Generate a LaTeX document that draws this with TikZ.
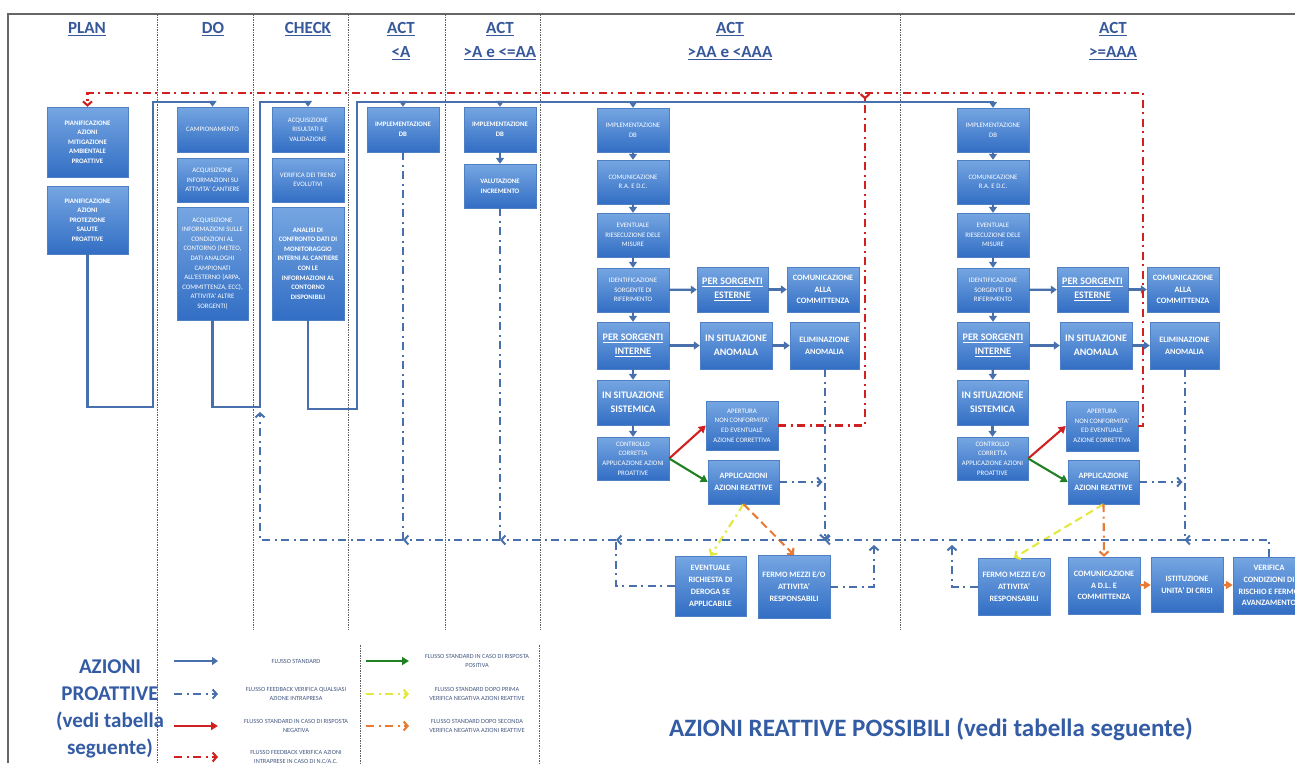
\documentclass[tikz,border=0pt]{standalone}
\usepackage{fontspec}
\setmainfont{Carlito}
\usetikzlibrary{arrows.meta,shadows}
\definecolor{hdr}{RGB}{55,88,155}
\definecolor{bigt}{RGB}{52,92,165}
\definecolor{boxtop}{RGB}{118,166,226}
\definecolor{boxbot}{RGB}{50,110,196}
\definecolor{boxedge}{RGB}{80,128,196}
\definecolor{flowblue}{RGB}{72,112,172}
\definecolor{fbred}{RGB}{208,32,32}
\definecolor{grn}{RGB}{32,128,36}
\definecolor{yel}{RGB}{226,232,64}
\definecolor{org}{RGB}{232,122,52}
\definecolor{sepc}{RGB}{95,95,95}
\definecolor{legt}{RGB}{68,88,130}
\newcommand{\bx}[7]{%
 \pgfmathsetmacro{\bxcx}{(#2+#4)/2}%
 \pgfmathsetmacro{\bxcy}{(#3+#5)/2}%
 \pgfmathsetmacro{\bxw}{#4-#2}%
 \pgfmathsetmacro{\bxh}{#5-#3}%
 \node[box,#6,minimum width=\bxw pt,minimum height=\bxh pt] (#1) at (\bxcx,\bxcy) {#7};}
\tikzset{
 box/.style={draw=boxedge, line width=0.4pt, top color=boxtop, bottom color=boxbot, text=white, align=center, inner sep=1pt,
   drop shadow={opacity=0.25,shadow xshift=1.2pt,shadow yshift=-1.2pt}},
 sm/.style={font=\fontsize{6.8}{9.6}\selectfont},
 smb/.style={font=\fontsize{6.8}{9.6}\selectfont\bfseries},
 md/.style={font=\fontsize{8.2}{11.8}\selectfont\bfseries},
 bg/.style={font=\fontsize{10}{14}\selectfont\bfseries},
 hdrtext/.style={font=\fontsize{17}{24}\selectfont\bfseries, text=hdr, align=center},
 legtext/.style={font=\fontsize{6.3}{8.6}\selectfont, text=legt, align=center},
 colsep/.style={draw=sepc, line width=0.6pt, dash pattern=on 1.5pt off 1pt},
 flowline/.style={draw=flowblue, line width=2.2pt},
 flow/.style={flowline, -{Triangle[length=6pt,width=8pt]}},
 dd/.style={dash pattern=on 8pt off 4.5pt on 2pt off 4.5pt},
 fbline/.style={draw=flowblue, line width=2pt, dd},
 fbk/.style={fbline, -{Straight Barb[length=4pt,width=9pt]}},
 redfb/.style={draw=fbred, line width=2.1pt, dd, -{Straight Barb[length=4pt,width=9pt]}},
 redar/.style={draw=fbred, line width=2.1pt, -{Triangle[length=7pt,width=8pt]}},
 grnar/.style={draw=grn, line width=2.1pt, -{Triangle[length=7pt,width=8pt]}},
 orgar/.style={draw=org, line width=2.1pt, -{Triangle[length=7pt,width=8pt]}},
 yeldd/.style={draw=yel, line width=2.1pt, dd, -{Straight Barb[length=4pt,width=9pt]}},
 yeldash/.style={draw=yel, line width=2.1pt, dash pattern=on 8pt off 4.5pt, -{Straight Barb[length=4pt,width=9pt]}},
 orgdd/.style={draw=org, line width=2.1pt, dd, -{Straight Barb[length=4pt,width=9pt]}},
 orgdash/.style={draw=org, line width=2.1pt, dash pattern=on 8pt off 4.5pt, -{Straight Barb[length=4pt,width=9pt]}},
}
\begin{document}
\begin{tikzpicture}[x=1pt,y=-1pt]
\useasboundingbox (0,0) rectangle (1295,763);
\fill[white] (0,0) rectangle (1295,763);
% frame
\draw[draw=gray!80!black, line width=1.3pt] (8,763) -- (8,14) -- (1295,14);
% column separators
\draw[colsep] (157,14) -- (157,763);
\foreach \xx in {253,348,445,540,900} {\draw[colsep] (\xx,14) -- (\xx,630);}
\draw[colsep] (360,645) -- (360,763);
\draw[colsep] (539,645) -- (539,763);
% headers
\node[hdrtext] (hplan) at (87,29) {\underline{PLAN}};
\node[hdrtext] (hdo) at (213,29) {\underline{DO}};
\node[hdrtext] (hcheck) at (308,29) {\underline{CHECK}};
\node[hdrtext] (hact1) at (401,41) {\underline{ACT}\\\underline{<A}};
\node[hdrtext] (hact2) at (500,41) {\underline{ACT}\\\underline{>A e <=AA}};
\node[hdrtext] (hact3) at (730,41) {\underline{ACT}\\\underline{>AA e <AAA}};
\node[hdrtext] (hact4) at (1113,41) {\underline{ACT}\\\underline{>=AAA}};
% PLAN
\bx{p1}{47}{107}{128}{177}{smb}{PIANIFICAZIONE\\AZIONI\\MITIGAZIONE\\AMBIENTALE\\PROATTIVE}
\bx{p2}{47}{186}{128}{254}{smb}{PIANIFICAZIONE\\AZIONI\\PROTEZIONE\\SALUTE\\PROATTIVE}
% DO
\bx{d1}{177}{107}{248}{152}{sm}{CAMPIONAMENTO}
\bx{d2}{177}{158}{248}{202}{sm}{ACQUISIZIONE\\INFORMAZIONI SU\\ATTIVITA' CANTIERE}
\bx{d3}{177}{207}{248}{320}{sm}{ACQUISIZIONE\\INFORMAZIONI SULLE\\CONDIZIONI AL\\CONTORNO (METEO,\\DATI ANALOGHI\\CAMPIONATI\\ALL'ESTERNO (ARPA,\\COMMITTENZA, ECC),\\ATTIVITA' ALTRE\\SORGENTI)}
% CHECK
\bx{c1}{272}{107}{344}{152}{sm}{ACQUISIZIONE\\RISULTATI E\\VALIDAZIONE}
\bx{c2}{272}{158}{344}{202}{sm}{VERIFICA DEI TREND\\EVOLUTIVI}
\bx{c3}{272}{207}{344}{320}{smb}{ANALISI DI\\CONFRONTO DATI DI\\MONITORAGGIO\\INTERNI AL CANTIERE\\CON LE\\INFORMAZIONI AL\\CONTORNO\\DISPONIBILI}
% ACT <A and >A
\bx{a1}{367}{107}{439}{152}{smb}{IMPLEMENTAZIONE\\DB}
\bx{b1}{464}{107}{536}{152}{smb}{IMPLEMENTAZIONE\\DB}
\bx{b2}{464}{164}{536}{208}{smb}{VALUTAZIONE\\INCREMENTO}
% middle column
\bx{m1}{597}{108}{669}{152}{sm}{IMPLEMENTAZIONE\\DB}
\bx{m2}{597}{160}{669}{204}{sm}{COMUNICAZIONE\\R.A. E D.C.}
\bx{m3}{597}{213}{669}{257}{sm}{EVENTUALE\\RIESECUZIONE DELE\\MISURE}
\bx{m4}{597}{268}{669}{312}{sm}{IDENTIFICAZIONE\\SORGENTE DI\\RIFERIMENTO}
\bx{m5}{697}{267}{768}{312}{bg}{\underline{PER SORGENTI}\\\underline{ESTERNE}}
\bx{m6}{787}{267}{859}{312}{md}{COMUNICAZIONE\\ALLA\\COMMITTENZA}
\bx{m7}{597}{322}{669}{369}{bg}{\underline{PER SORGENTI}\\\underline{INTERNE}}
\bx{m8}{700}{322}{772}{369}{bg}{IN SITUAZIONE\\ANOMALA}
\bx{m9}{790}{322}{859}{369}{md}{ELIMINAZIONE\\ANOMALIA}
\bx{m10}{597}{380}{669}{425}{bg}{IN SITUAZIONE\\SISTEMICA}
\bx{m11}{597}{437}{669}{480}{sm}{CONTROLLO\\CORRETTA\\APPLICAZIONE AZIONI\\PROATTIVE}
\bx{m12}{706}{401}{778}{450}{sm}{APERTURA\\NON CONFORMITA'\\ED EVENTUALE\\AZIONE CORRETTIVA}
\bx{m13}{708}{460}{779}{504}{md}{APPLICAZIONI\\AZIONI REATTIVE}
\bx{m14}{675}{556}{746}{616}{md}{EVENTUALE\\RICHIESTA DI\\DEROGA SE\\APPLICABILE}
\bx{m15}{758}{555}{830}{618}{md}{FERMO MEZZI E/O\\ATTIVITA'\\RESPONSABILI}
% right column
\bx{r1}{957}{108}{1029}{152}{sm}{IMPLEMENTAZIONE\\DB}
\bx{r2}{957}{160}{1029}{204}{sm}{COMUNICAZIONE\\R.A. E D.C.}
\bx{r3}{957}{213}{1029}{257}{sm}{EVENTUALE\\RIESECUZIONE DELE\\MISURE}
\bx{r4}{957}{268}{1029}{312}{sm}{IDENTIFICAZIONE\\SORGENTE DI\\RIFERIMENTO}
\bx{r5}{1057}{267}{1128}{312}{bg}{\underline{PER SORGENTI}\\\underline{ESTERNE}}
\bx{r6}{1147}{267}{1219}{312}{md}{COMUNICAZIONE\\ALLA\\COMMITTENZA}
\bx{r7}{957}{322}{1029}{369}{bg}{\underline{PER SORGENTI}\\\underline{INTERNE}}
\bx{r8}{1060}{322}{1132}{369}{bg}{IN SITUAZIONE\\ANOMALA}
\bx{r9}{1150}{322}{1219}{369}{md}{ELIMINAZIONE\\ANOMALIA}
\bx{r10}{957}{380}{1028}{425}{bg}{IN SITUAZIONE\\SISTEMICA}
\bx{r11}{957}{437}{1028}{480}{sm}{CONTROLLO\\CORRETTA\\APPLICAZIONE AZIONI\\PROATTIVE}
\bx{r12}{1066}{401}{1138}{451}{sm}{APERTURA\\NON CONFORMITA'\\ED EVENTUALE\\AZIONE CORRETTIVA}
\bx{r13}{1068}{460}{1139}{504}{md}{APPLICAZIONE\\AZIONI REATTIVE}
\bx{r14}{978}{558}{1050}{615}{md}{FERMO MEZZI E/O\\ATTIVITA'\\RESPONSABILI}
\bx{r15}{1068}{557}{1140}{614}{md}{COMUNICAZIONE\\A D.L. E\\COMMITTENZA}
\bx{r16}{1151}{557}{1223}{612}{md}{ISTITUZIONE\\UNITA' DI CRISI}
\bx{r17}{1233}{557}{1305}{614}{md}{VERIFICA\\CONDIZIONI DI\\RISCHIO E FERMO\\AVANZAMENTO}
% coordinates
\coordinate (pl1) at (153,407); \coordinate (pl2) at (153,102);
\coordinate (do1) at (260,407); \coordinate (do2) at (260,102);
\coordinate (ck1) at (357,409); \coordinate (ck2) at (357,102);
\coordinate (rtop) at (1143,93); \coordinate (mtop) at (865,93);
\coordinate (jR) at (1184.5,540); \coordinate (jM) at (824.5,540);
\coordinate (jD) at (616,540); \coordinate (jB) at (500,540);
\coordinate (jA) at (403,540); \coordinate (jL) at (260,540);
\coordinate (jLend) at (260,412);
\coordinate (jF1) at (874,545); \coordinate (jF2) at (952,545);
% standard flow
\draw[flow] (p2.south) |- (pl1) -- (pl2) -| (d1.north);
\draw[flow] (d3.south) |- (do1) -- (do2) -| (c1.north);
\draw[flow] (c3.south) |- (ck1) -- (ck2) -| (r1.north);
\draw[flow] (a1.north |- ck2) -- (a1.north);
\draw[flow] (b1.north |- ck2) -- (b1.north);
\draw[flow] (m1.north |- ck2) -- (m1.north);
\draw[flow] (b1) -- (b2);
\foreach \c in {m,r} {
 \draw[flow] (\c1) -- (\c2);
 \draw[flow] (\c2) -- (\c3);
 \draw[flow] (\c3) -- (\c4);
 \draw[flow] (\c4) -- (\c7);
 \draw[flow] (\c7) -- (\c10);
 \draw[flow] (\c10) -- (\c11);
 \draw[flow] (\c4) -- (\c5);
 \draw[flow] (\c5) -- (\c6);
 \draw[flow] (\c7) -- (\c8);
 \draw[flow] (\c8) -- (\c9);
 \draw[redar] (\c11.east) -- (\c12.west);
 \draw[grnar] (\c11.east) -- (\c13.west);
}
% red feedback
\draw[redfb] (r12.east) -| (rtop) -| (p1.north);
\draw[draw=fbred, line width=2.1pt, dd, -{Straight Barb[reversed,length=4pt,width=9pt]}] (m12.east) -| (mtop);
% reactive flows
\draw[yeldd] (m13.south) -- (m14.north);
\draw[orgdash] (m13.south) -- (m15.north);
\draw[yeldash] (r13.south) -- (r14.north);
\draw[orgdd] (r13.south) -- (r15.north);
\draw[orgar] (r15) -- (r16);
\draw[orgar] (r16) -- (r17);
% blue feedback
\draw[fbk] (m13.east) -- ([xshift=-2pt]m13.east -| m9.south);
\draw[fbk] (r13.east) -- ([xshift=-2pt]r13.east -| r9.south);
\draw[fbk] (r17.north) |- (jR);
\draw[fbline] (r9.south) -- (jR);
\draw[fbk] (jR) -- (jM);
\draw[fbk] (m9.south) -- (jM);
\draw[fbk] (jM) -- (jD);
\draw[fbline] (m14.west) -| (jD);
\draw[fbk] (m15.east) -| (jF1);
\draw[fbk] (r14.west) -| (jF2);
\draw[fbk] (jD) -- (jB);
\draw[fbline] (b2.south) -- (jB);
\draw[fbk] (jB) -- (jA);
\draw[fbline] (a1.south) -- (jA);
\draw[fbk] (jA) -- (jL) -- (jLend);
% big texts
\node[font=\fontsize{21}{27}\selectfont\bfseries, text=bigt, align=center] (tpro) at (110,709) {AZIONI\\PROATTIVE\\(vedi tabella\\seguente)};
\node[font=\fontsize{25}{30}\selectfont\bfseries, text=bigt] (trea) at (931,729) {AZIONI REATTIVE POSSIBILI (vedi tabella seguente)};
% legend
\coordinate (la1) at (174,661); \coordinate (lb1) at (218,661);
\coordinate (la2) at (174,694); \coordinate (lb2) at (218,694);
\coordinate (la3) at (174,726); \coordinate (lb3) at (218,726);
\coordinate (la4) at (174,757); \coordinate (lb4) at (218,757);
\coordinate (ra1) at (366,661); \coordinate (rb1) at (409,661);
\coordinate (ra2) at (366,694); \coordinate (rb2) at (409,694);
\coordinate (ra3) at (366,726); \coordinate (rb3) at (409,726);
\draw[flow] (la1) -- (lb1);
\draw[fbk] (la2) -- (lb2);
\draw[redar] (la3) -- (lb3);
\draw[redfb] (la4) -- (lb4);
\draw[grnar] (ra1) -- (rb1);
\draw[yeldd] (ra2) -- (rb2);
\draw[orgdd] (ra3) -- (rb3);
\node[legtext] (lt1) at (296,661) {FLUSSO STANDARD};
\node[legtext] (lt2) at (296,694) {FLUSSO FEEDBACK VERIFICA QUALSIASI\\AZIONE INTRAPRESA};
\node[legtext] (lt3) at (296,726) {FLUSSO STANDARD IN CASO DI RISPOSTA\\NEGATIVA};
\node[legtext] (lt4) at (296,757) {FLUSSO FEEDBACK VERIFICA AZIONI\\INTRAPRESE IN CASO DI N.C/A.C.};
\node[legtext] (rt1) at (477,661) {FLUSSO STANDARD IN CASO DI RISPOSTA\\POSITIVA};
\node[legtext] (rt2) at (477,694) {FLUSSO STANDARD DOPO PRIMA\\VERIFICA NEGATIVA AZIONI REATTIVE};
\node[legtext] (rt3) at (477,726) {FLUSSO STANDARD DOPO SECONDA\\VERIFICA NEGATIVA AZIONI REATTIVE};
\end{tikzpicture}
\end{document}
